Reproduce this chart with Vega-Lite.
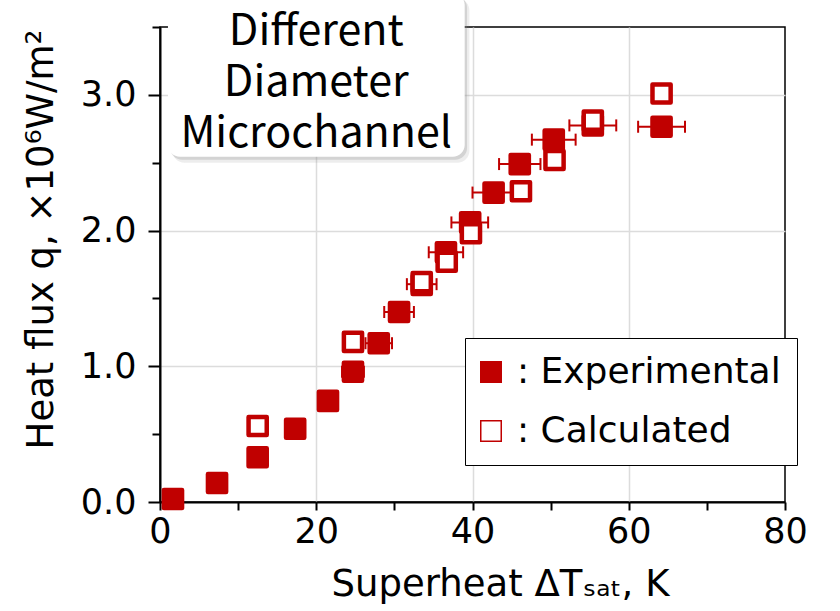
{
  "$schema": "https://vega.github.io/schema/vega-lite/v6.json",
  "width": 625,
  "height": 475,
  "autosize": {"type": "none"},
  "padding": {"left": 160, "top": 27, "right": 55, "bottom": 109},
  "background": "white",
  "config": {
    "font": "DejaVu Sans",
    "view": {"stroke": "black", "strokeWidth": 1.5}
  },
  "datasets": {
    "points": [
      {"T": 1.66, "q": 0.022, "series": "Experimental"},
      {"T": 7.3, "q": 0.14, "series": "Experimental"},
      {"T": 12.5, "q": 0.33, "series": "Experimental"},
      {"T": 17.3, "q": 0.54, "series": "Experimental"},
      {"T": 21.5, "q": 0.745, "series": "Experimental"},
      {"T": 24.7, "q": 0.96, "series": "Experimental"},
      {"T": 28.0, "q": 1.17, "series": "Experimental"},
      {"T": 30.6, "q": 1.40, "series": "Experimental"},
      {"T": 33.5, "q": 1.60, "series": "Experimental"},
      {"T": 36.6, "q": 1.84, "series": "Experimental"},
      {"T": 39.7, "q": 2.06, "series": "Experimental"},
      {"T": 42.7, "q": 2.28, "series": "Experimental"},
      {"T": 46.05, "q": 2.49, "series": "Experimental"},
      {"T": 50.4, "q": 2.67, "series": "Experimental"},
      {"T": 55.4, "q": 2.775, "series": "Experimental"},
      {"T": 64.2, "q": 2.765, "series": "Experimental"},
      {"T": 12.5, "q": 0.56, "series": "Calculated"},
      {"T": 24.7, "q": 1.18, "series": "Calculated"},
      {"T": 33.5, "q": 1.62, "series": "Calculated"},
      {"T": 36.7, "q": 1.77, "series": "Calculated"},
      {"T": 39.8, "q": 1.98, "series": "Calculated"},
      {"T": 46.2, "q": 2.29, "series": "Calculated"},
      {"T": 50.5, "q": 2.52, "series": "Calculated"},
      {"T": 55.4, "q": 2.81, "series": "Calculated"},
      {"T": 64.2, "q": 3.01, "series": "Calculated"}
    ],
    "errors": [
      {"T": 24.7, "q": 0.96, "lo": 23.3, "hi": 26.1},
      {"T": 28.0, "q": 1.17, "lo": 26.3, "hi": 29.7},
      {"T": 30.6, "q": 1.40, "lo": 28.7, "hi": 32.5},
      {"T": 33.5, "q": 1.605, "lo": 31.6, "hi": 35.4},
      {"T": 36.6, "q": 1.84, "lo": 34.4, "hi": 38.8},
      {"T": 39.7, "q": 2.06, "lo": 37.3, "hi": 42.0},
      {"T": 42.7, "q": 2.28, "lo": 40.0, "hi": 45.4},
      {"T": 46.05, "q": 2.49, "lo": 43.4, "hi": 48.7},
      {"T": 50.4, "q": 2.67, "lo": 47.6, "hi": 53.2},
      {"T": 55.4, "q": 2.775, "lo": 52.4, "hi": 58.4},
      {"T": 64.2, "q": 2.765, "lo": 61.2, "hi": 67.2}
    ],
    "note": [
      {"lines": ["Different", "Diameter", "Microchannel"]}
    ]
  },
  "layer": [
    {
      "data": {"name": "note"},
      "mark": {"type": "rect", "color": "#888888", "opacity": 0.15, "cornerRadius": 12},
      "encoding": {
        "x": {"datum": 1.6}, "x2": {"datum": 39.6},
        "y": {"datum": 2.50}, "y2": {"datum": 3.71}
      }
    },
    {
      "data": {"name": "note"},
      "mark": {"type": "rect", "color": "#888888", "opacity": 0.25, "cornerRadius": 12},
      "encoding": {
        "x": {"datum": 1.3}, "x2": {"datum": 39.3},
        "y": {"datum": 2.522}, "y2": {"datum": 3.73}
      }
    },
    {
      "data": {"name": "note"},
      "mark": {"type": "rect", "color": "white", "opacity": 1, "cornerRadius": 12},
      "encoding": {
        "x": {"datum": 1.02}, "x2": {"datum": 39.0},
        "y": {"datum": 2.544}, "y2": {"datum": 3.75}
      }
    },
    {
      "data": {"name": "note"},
      "mark": {
        "type": "text",
        "font": "Noto Sans CJK JP",
        "fontSize": 43,
        "lineHeight": 51,
        "align": "center",
        "baseline": "alphabetic",
        "color": "black"
      },
      "encoding": {
        "x": {"datum": 20.0},
        "y": {"datum": 3.37},
        "text": {"field": "lines"}
      }
    },
    {
      "data": {"name": "errors"},
      "mark": {"type": "rule", "color": "#C00000", "strokeWidth": 2},
      "encoding": {
        "x": {"field": "lo", "type": "quantitative"},
        "x2": {"field": "hi"},
        "y": {"field": "q", "type": "quantitative"}
      }
    },
    {
      "data": {"name": "errors"},
      "mark": {"type": "tick", "orient": "vertical", "color": "#C00000", "size": 12, "thickness": 2, "opacity": 1},
      "encoding": {
        "x": {"field": "lo", "type": "quantitative"},
        "y": {"field": "q", "type": "quantitative"}
      }
    },
    {
      "data": {"name": "errors"},
      "mark": {"type": "tick", "orient": "vertical", "color": "#C00000", "size": 12, "thickness": 2, "opacity": 1},
      "encoding": {
        "x": {"field": "hi", "type": "quantitative"},
        "y": {"field": "q", "type": "quantitative"}
      }
    },
    {
      "data": {"name": "points"},
      "mark": {"type": "point", "shape": "square", "size": 330, "stroke": "#C00000", "strokeWidth": 4.5, "strokeJoin": "round", "opacity": 1},
      "encoding": {
        "x": {
          "field": "T", "type": "quantitative",
          "scale": {"domain": [0, 80], "nice": false, "zero": false},
          "axis": {
            "title": "Superheat ΔTₛₐₜ, K",
            "values": [0, 10, 20, 30, 40, 50, 60, 70, 80],
            "labelExpr": "datum.value % 20 === 0 ? format(datum.value, 'd') : ''",
            "labelFlush": false,
            "labelOverlap": false,
            "grid": true,
            "gridColor": "#dcdcdc",
            "gridWidth": 1.5,
            "gridOpacity": {"condition": {"test": "datum.value % 20 === 0 && datum.value > 0 && datum.value < 80", "value": 1}, "value": 0},
            "tickSize": 8,
            "tickWidth": 2,
            "tickColor": "black",
            "domainColor": "black",
            "domainWidth": 2,
            "labelFont": "DejaVu Sans",
            "labelFontSize": 35,
            "labelColor": "black",
            "labelPadding": 4,
            "titleFont": "DejaVu Sans",
            "titleFontSize": 37,
            "titleFontWeight": "normal",
            "titleColor": "black",
            "titlePadding": 17,
            "titleX": 340
          }
        },
        "y": {
          "field": "q", "type": "quantitative",
          "scale": {"domain": [0, 3.5], "nice": false, "zero": false},
          "axis": {
            "title": "Heat flux q, ×10⁶W/m²",
            "values": [0, 0.5, 1, 1.5, 2, 2.5, 3, 3.5],
            "labelExpr": "datum.value % 1 === 0 ? format(datum.value, '.1f') : ''",
            "labelOverlap": false,
            "labelFlush": false,
            "grid": true,
            "gridColor": "#dcdcdc",
            "gridWidth": 1.5,
            "gridOpacity": {"condition": {"test": "datum.value % 1 === 0 && datum.value > 0", "value": 1}, "value": 0},
            "tickSize": {"condition": {"test": "datum.value % 1 === 0", "value": 12}, "value": 8},
            "tickWidth": 2,
            "tickColor": "black",
            "domainColor": "black",
            "domainWidth": 2,
            "labelFont": "DejaVu Sans",
            "labelFontSize": 35,
            "labelColor": "black",
            "labelPadding": 12,
            "titleFont": "DejaVu Sans",
            "titleFontSize": 37,
            "titleFontWeight": "normal",
            "titleColor": "black",
            "titlePadding": 20,
            "titleY": 212
          }
        },
        "fill": {
          "field": "series", "type": "nominal",
          "scale": {"domain": ["Experimental", "Calculated"], "range": ["#C00000", "white"]},
          "legend": {
            "title": null,
            "orient": "none",
            "legendX": 305,
            "legendY": 311,
            "strokeColor": "black",
            "fillColor": "white",
            "padding": 16,
            "labelFont": "DejaVu Sans",
            "labelFontSize": 36,
            "labelColor": "black",
            "labelOffset": 8,
            "labelLimit": 600,
            "labelExpr": "': ' + datum.label",
            "symbolType": "square",
            "symbolSize": 420,
            "symbolOffset": -8,
            "symbolStrokeColor": "#C00000",
            "symbolStrokeWidth": 1.5,
            "symbolOpacity": 1,
            "rowPadding": 23
          }
        }
      }
    }
  ]
}
